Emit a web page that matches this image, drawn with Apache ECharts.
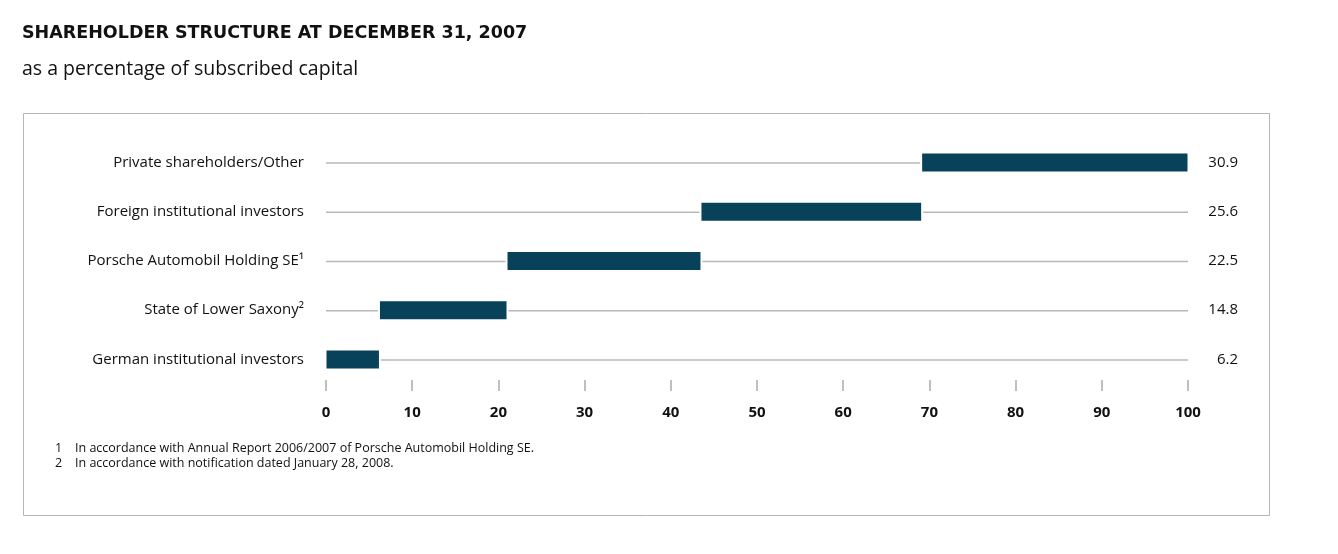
<!DOCTYPE html>
<html><head><meta charset="utf-8">
<script src="https://cdn.jsdelivr.net/npm/echarts@6/dist/echarts.min.js"></script>
<style>html,body{margin:0;padding:0;background:#fff}#c{width:1338px;height:554px}</style>
</head><body><div id="c"></div>
<script>
const categories = ['German institutional investors','State of Lower Saxony\u00B2','Porsche Automobil Holding SE\u00B9','Foreign institutional investors','Private shareholders/Other'];
const values = [6.2, 14.8, 22.5, 25.6, 30.9];
const valueLabels = ['6.2','14.8','22.5','25.6','30.9'];
const xTicks = [0,10,20,30,40,50,60,70,80,90,100];

const FONT = '"Open Sans", "Noto Sans", sans-serif';
const BAR = '#07425a';
const LINE = '#b8b8b8';

let acc = 0;
const data = values.map((v,i)=>{const s=acc; acc+=v; return [i, s, acc, v];});

const chart = echarts.init(document.getElementById('c'));
chart.setOption({
  animation:false,
  title:[
    {text:'SHAREHOLDER STRUCTURE AT DECEMBER 31, 2007', left:17, top:19,
     textStyle:{fontFamily:'"DejaVu Sans", sans-serif', fontSize:17.5, fontWeight:'bold', color:'#111'}},
    {text:'as a percentage of subscribed capital', left:17, top:54,
     textStyle:{fontFamily:FONT, fontSize:19.5, fontWeight:'normal', color:'#111'}}
  ],
  graphic:[
    {type:'rect', shape:{x:23.5,y:113.5,width:1246,height:402}, style:{fill:'none', stroke:'#b5b5b5', lineWidth:1}, z:-1},
    {type:'text', left:55, top:442, style:{text:'1', font:'12.5px '+FONT, fill:'#111'}},
    {type:'text', left:75, top:442, style:{text:'In accordance with Annual Report 2006/2007 of Porsche Automobil Holding SE.', font:'12.5px '+FONT, fill:'#111'}},
    {type:'text', left:55, top:457, style:{text:'2', font:'12.5px '+FONT, fill:'#111'}},
    {type:'text', left:75, top:457, style:{text:'In accordance with notification dated January 28, 2008.', font:'12.5px '+FONT, fill:'#111'}}
  ],
  grid:{left:326, right:150, top:138, bottom:170, containLabel:false},
  xAxis:{type:'value', min:0, max:100, interval:10, offset:-4,
    axisLine:{show:false}, splitLine:{show:false},
    axisTick:{show:true, length:11, lineStyle:{color:'#aaa', width:1.5}},
    axisLabel:{margin:25, fontFamily:FONT, fontSize:15, fontWeight:'bold', color:'#111'}},
  yAxis:[
    {type:'category', data:categories, axisLine:{show:false}, axisTick:{show:false},
     axisLabel:{margin:22, fontFamily:FONT, fontSize:15, color:'#111'}},
    {type:'category', data:valueLabels, position:'right', axisLine:{show:false}, axisTick:{show:false},
     axisLabel:{margin:50, align:'right', fontFamily:FONT, fontSize:15, color:'#111'}}
  ],
  series:[{
    type:'custom', yAxisIndex:0,
    encode:{x:[1,2], y:0},
    renderItem:function(params, api){
      const idx = api.value(0);
      const a = api.coord([0, idx]);
      const b = api.coord([100, idx]);
      const s = api.coord([api.value(1), idx]);
      const e = api.coord([api.value(2), idx]);
      const h = 18;
      return {type:'group', children:[
        {type:'line', shape:{x1:a[0], y1:a[1]+0.5, x2:b[0], y2:b[1]+0.5}, style:{stroke:LINE, lineWidth:1.5}},
        {type:'rect', shape:{x:s[0]-1.5, y:s[1]-h/2-1.5, width:e[0]-s[0]+3, height:h+3}, style:{fill:'#fff'}},
        {type:'rect', shape:{x:s[0]+0.5, y:s[1]-h/2, width:e[0]-s[0]-1, height:h}, style:{fill:BAR}}
      ]};
    },
    data:data
  }]
});
</script></body></html>
